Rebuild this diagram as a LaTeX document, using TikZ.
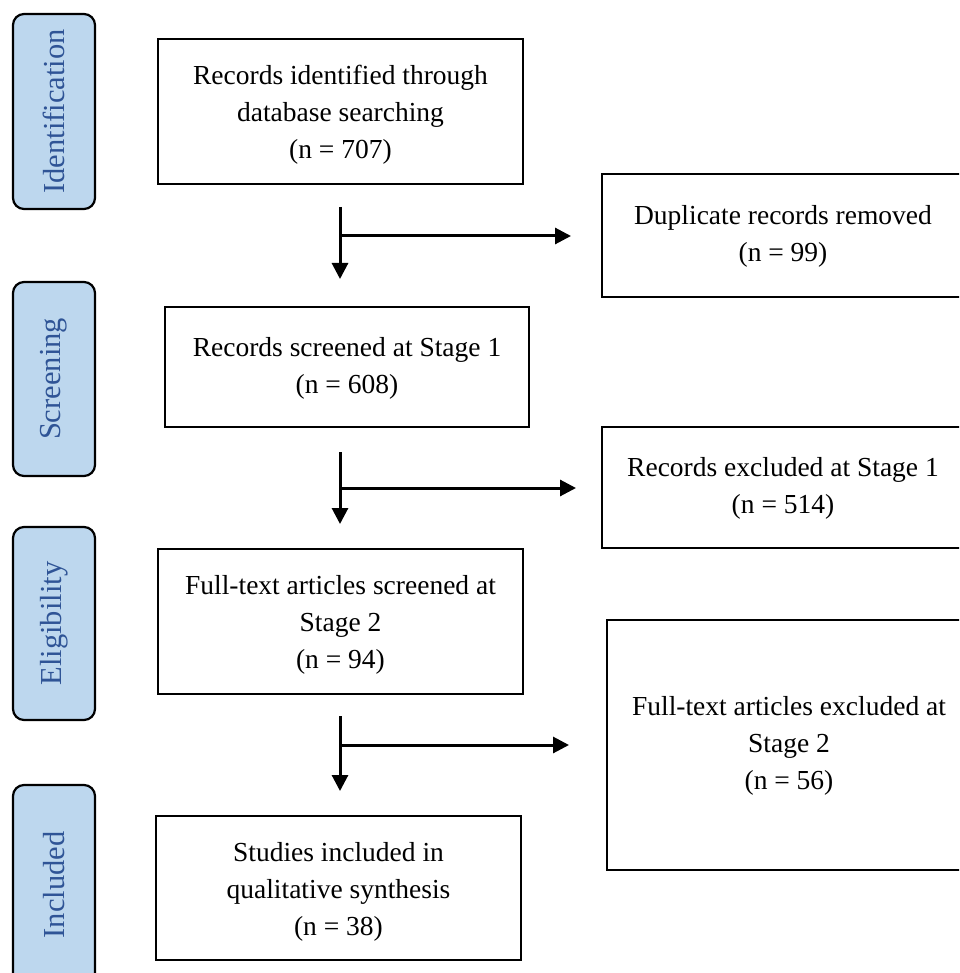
\documentclass[tikz,border=0pt]{standalone}
\usepackage{fontspec}
\setmainfont{Liberation Serif}
\usetikzlibrary{arrows.meta}
\definecolor{sidefill}{RGB}{189,215,238}
\definecolor{sidetext}{RGB}{47,84,150}
\tikzset{
  mainbox/.style={draw=black, line width=2.2pt, inner sep=0pt},
  boxtext/.style={align=center, inner sep=0pt, font=\fontsize{27.5}{37}\selectfont},
  sidebox/.style={draw=black, line width=2.2pt, fill=sidefill, rounded corners=11pt,
    inner sep=0pt, text=sidetext, rotate=90,
    font=\fontsize{30.5}{34}\selectfont},
  flow/.style={line width=3pt, -{Triangle[length=16pt,width=16pt]}}
}
\begin{document}
\begin{tikzpicture}[x=1pt,y=-1pt]
\useasboundingbox (0,0) rectangle (959,973);
\clip (0,0) rectangle (959,973);
% side labels
\node[sidebox, minimum width=195pt, minimum height=82pt] (sid) at (54,111.5) {Identification};
\node[sidebox, minimum width=194pt, minimum height=82pt] (ssc) at (54,379) {Screening};
\node[sidebox, minimum width=193pt, minimum height=82pt] (sel) at (54,623.5) {Eligibility};
\node[sidebox, minimum width=200pt, minimum height=82pt] (sin) at (54,885) {Included};
% main boxes
\node[mainbox, minimum width=365pt, minimum height=145pt] (b1) at (340.5,111.5) {};
\node[mainbox, minimum width=364pt, minimum height=120pt] (b2) at (347,367) {};
\node[mainbox, minimum width=365pt, minimum height=145pt] (b3) at (340.5,621.5) {};
\node[mainbox, minimum width=365pt, minimum height=144pt] (b4) at (338.5,888) {};
\node[boxtext] (b1t) at ([yshift=-3pt]b1.center) {Records identified through\\database searching\\(n = 707)};
\node[boxtext] (b2t) at ([yshift=-1pt]b2.center) {Records screened at Stage 1\\(n = 608)};
\node[boxtext] (b3t) at ([yshift=-3pt]b3.center) {Full-text articles screened at\\Stage 2\\(n = 94)};
\node[boxtext] (b4t) at ([yshift=-4pt]b4.center) {Studies included in\\qualitative synthesis\\(n = 38)};
% right boxes
\node[mainbox, minimum width=372pt, minimum height=123pt] (r1) at (788,235.5) {};
\node[mainbox, minimum width=372pt, minimum height=121pt] (r2) at (788,487.5) {};
\node[mainbox, minimum width=366pt, minimum height=250pt] (r3) at (790,745) {};
\node[boxtext] (t1) at (783,236) {Duplicate records removed\\(n = 99)};
\node[boxtext] (t2) at (783,488) {Records excluded at Stage 1\\(n = 514)};
\node[boxtext] (t3) at (789,746) {Full-text articles excluded at\\Stage 2\\(n = 56)};
% arrows
\coordinate (a1s) at (340,207); \coordinate (a1j) at (340,236);
\coordinate (a1e) at (340,279); \coordinate (a1r) at (571,236);
\coordinate (a2s) at (340,452); \coordinate (a2j) at (340,488);
\coordinate (a2e) at (340,524); \coordinate (a2r) at (576,488);
\coordinate (a3s) at (340,716); \coordinate (a3j) at (340,745);
\coordinate (a3e) at (340,791); \coordinate (a3r) at (569,745);
\draw[flow] (a1s) -- (a1e);
\draw[flow] (a1j) -- (a1r);
\draw[flow] (a2s) -- (a2e);
\draw[flow] (a2j) -- (a2r);
\draw[flow] (a3s) -- (a3e);
\draw[flow] (a3j) -- (a3r);
\end{tikzpicture}
\end{document}
